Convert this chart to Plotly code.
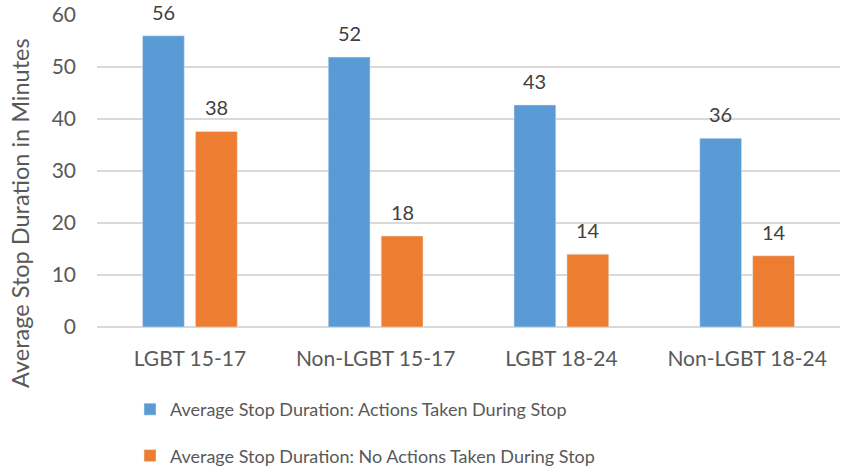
import plotly.graph_objects as go

categories = ["LGBT 15-17", "Non-LGBT 15-17", "LGBT 18-24", "Non-LGBT 18-24"]
series_names = [
    "Average Stop Duration: Actions Taken During Stop",
    "Average Stop Duration: No Actions Taken During Stop",
]
actions_taken = [56.0, 51.9, 42.7, 36.3]
no_actions_taken = [37.6, 17.5, 14.0, 13.7]
y_ticks = [0, 10, 20, 30, 40, 50, 60]

BLUE = "#5B9BD5"
ORANGE = "#ED7D31"
FONT = "Lato"
TEXT_COL = "#595959"
LABEL_COL = "#404040"
BARGAP = 0.43
GROUPGAP = 0.21

fig = go.Figure()
fig.add_trace(go.Bar(x=categories, y=actions_taken, name=series_names[0],
                     marker=dict(color=BLUE), legendgroup="a"))
fig.add_trace(go.Bar(x=categories, y=no_actions_taken, name=series_names[1],
                     marker=dict(color=ORANGE), legendgroup="b"))

# data labels above bars, offset to the grouped slots
slot = (1 - BARGAP) / 2
for si, vals in enumerate([actions_taken, no_actions_taken]):
    off = (si - 0.5) * slot
    for ci, v in enumerate(vals):
        fig.add_annotation(x=ci + off, y=v, xref="x", yref="y",
                           text=f"{v:.0f}", showarrow=False,
                           yanchor="middle", yshift=24,
                           font=dict(family=FONT, size=20, color=LABEL_COL))

# axis title
fig.add_annotation(text="Average Stop Duration in Minutes", textangle=-90,
                   xref="paper", yref="paper", x=-0.103, y=0.367,
                   xanchor="center", yanchor="middle", showarrow=False,
                   font=dict(family=FONT, size=23.5, color=TEXT_COL))

fig.update_layout(
    width=846, height=471,
    margin=dict(l=97, r=6, t=15, b=144, autoexpand=False),
    paper_bgcolor="white", plot_bgcolor="white",
    barmode="group", bargap=BARGAP, bargroupgap=GROUPGAP,
    font=dict(family=FONT, size=18, color=TEXT_COL),
    showlegend=True,
    legend=dict(orientation="v", xref="container", yref="container",
                x=130 / 846, y=1 - 391 / 471, xanchor="left", yanchor="top",
                traceorder="grouped", tracegroupgap=20,
                font=dict(family=FONT, size=18, color=TEXT_COL),
                bgcolor="rgba(0,0,0,0)"),
    xaxis=dict(showgrid=False, showline=False, ticks="", automargin=False,
               ticklabelstandoff=17,
               tickfont=dict(family=FONT, size=21, color=TEXT_COL)),
    yaxis=dict(range=[0, 60], tickvals=y_ticks, showgrid=True, automargin=False,
               gridcolor="#D9D9D9", gridwidth=1.5, zeroline=True,
               zerolinecolor="#D9D9D9", zerolinewidth=1.5, showline=False,
               ticks="", ticklabelstandoff=20,
               tickfont=dict(family=FONT, size=21, color=TEXT_COL)),
)

fig.write_html("out.html", config={"displayModeBar": False},
               post_script="document.body.style.margin='0px';document.body.style.overflow='hidden';")
